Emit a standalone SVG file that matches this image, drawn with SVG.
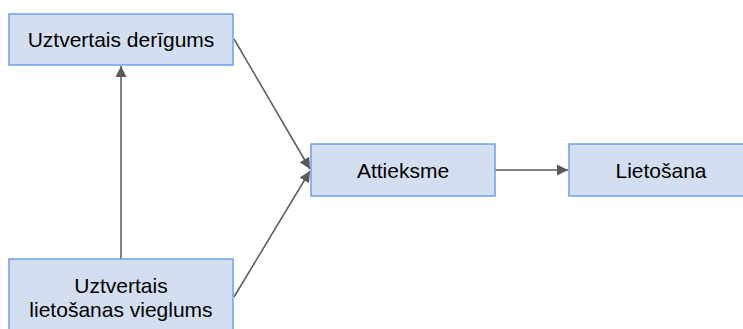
<svg xmlns="http://www.w3.org/2000/svg" width="743" height="329" viewBox="0 0 743 329">
  <style>
    .box { fill: #d3dff0; stroke: #6d9eeb; stroke-width: 1.5; }
    .lbl { font-family: "Liberation Sans", Arial, sans-serif; font-size: 21px; fill: #000; text-anchor: middle; }
    .edge { stroke: #595959; stroke-width: 1.5; fill: none; marker-end: url(#arrow); }
  </style>
  <defs>
    <marker id="arrow" viewBox="0 0 10 10" refX="10" refY="5" markerWidth="11" markerHeight="11" markerUnits="userSpaceOnUse" orient="auto">
      <path d="M0,0 L10,5 L0,10 z" fill="#595959"/>
    </marker>
  </defs>
  <rect width="743" height="329" fill="#fff"/>

  <g id="connectors">
    <line class="edge" x1="121" y1="259" x2="121" y2="66"/>
    <line class="edge" x1="234" y1="39" x2="310" y2="169"/>
    <line class="edge" x1="234" y1="297" x2="310" y2="171"/>
    <line class="edge" x1="495" y1="170" x2="568" y2="170"/>
  </g>

  <g id="uztvertais-derigums">
    <rect class="box" x="9" y="14" width="224" height="51"/>
    <text class="lbl" x="121" y="47">Uztvertais derīgums</text>
  </g>

  <g id="uztvertais-vieglums">
    <rect class="box" x="9" y="259" width="224" height="76"/>
    <text class="lbl" x="121" y="293">Uztvertais</text>
    <text class="lbl" x="121" y="317">lietošanas vieglums</text>
  </g>

  <g id="attieksme">
    <rect class="box" x="311" y="144" width="184" height="52"/>
    <text class="lbl" x="403" y="178">Attieksme</text>
  </g>

  <g id="lietosana">
    <rect class="box" x="569" y="144" width="184" height="52"/>
    <text class="lbl" x="661" y="178">Lietošana</text>
  </g>
</svg>
